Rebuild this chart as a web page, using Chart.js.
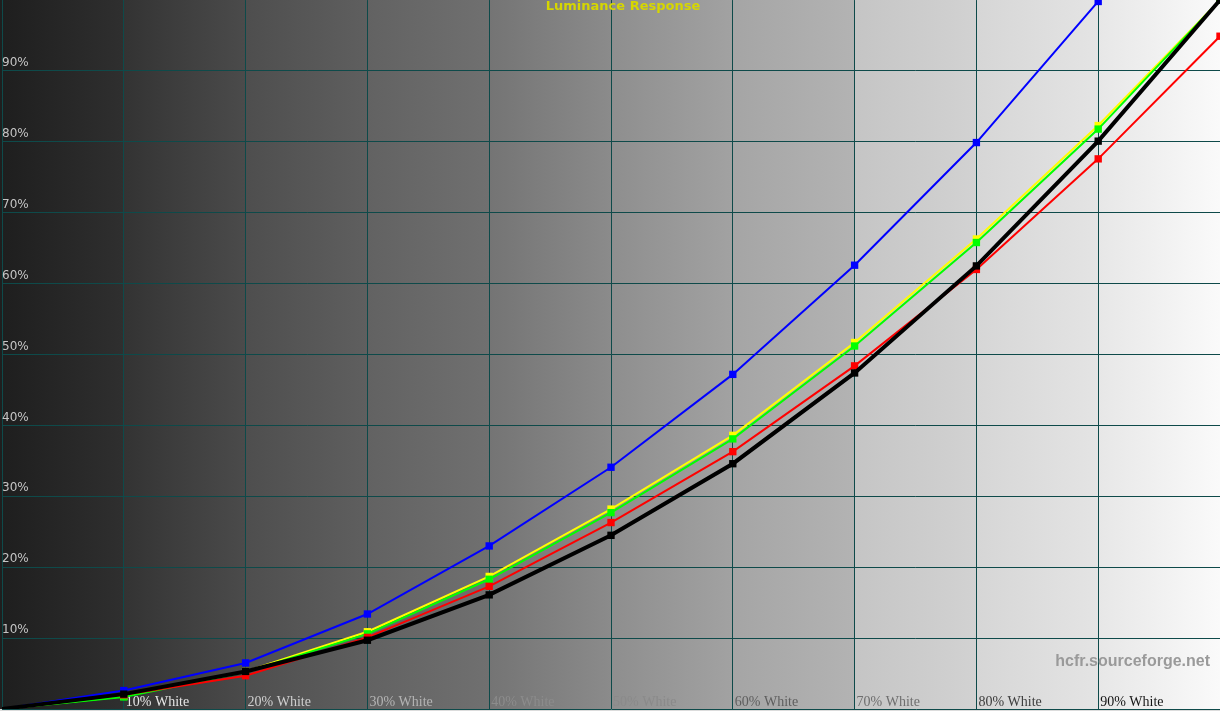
<!DOCTYPE html>
<html>
<head>
<meta charset="utf-8">
<title>Luminance Response</title>
<script src="https://cdn.jsdelivr.net/npm/chart.js@4"></script>
<style>
  html, body { margin: 0; padding: 0; background: #dcdcdc; }
  canvas { display: block; }
</style>
</head>
<body>
<canvas id="chart" width="1220" height="711"></canvas>
<script>
'use strict';

// stimulus level (% white)
var levels = [0, 10, 20, 30, 40, 50, 60, 70, 80, 90, 100];
var xTickLabels = [null, '10% White', '20% White', '30% White', '40% White', '50% White',
    '60% White', '70% White', '80% White', '90% White', null];
var yTickLabels = [null, '10%', '20%', '30%', '40%', '50%', '60%', '70%', '80%', '90%', null];

// measured luminance (% of white)
var yLum     = [0, 1.8, 5.3, 10.9, 18.7, 28.2, 38.6, 51.7, 66.3, 82.3, 100];
var greenLum = [0, 1.7, 5.2, 10.6, 18.3, 27.7, 38.1, 51.2, 65.8, 81.8, 100];
var redLum   = [0, 2.0, 4.7, 10.1, 17.3, 26.3, 36.3, 48.4, 62.0, 77.6, 94.9];
var blueLum  = [0, 2.6, 6.5, 13.4, 23.0, 34.1, 47.2, 62.6, 79.9, 99.8, 122];
var refLum   = [0, 2.1, 5.3, 9.7, 16.1, 24.5, 34.6, 47.4, 62.5, 80.1, 100];

function points(values) {
    var out = [];
    for (let i = 0; i < levels.length; i++) {
        out.push({ x: levels[i], y: values[i] });
    }
    return out;
}

function series(label, values, color, width, order) {
    return {
        label: label,
        data: points(values),
        borderColor: color,
        backgroundColor: color,
        borderWidth: width,
        pointStyle: 'rect',
        pointRadius: function (ctx) { return ctx.dataIndex === 0 ? 0 : 5.2; },
        pointBorderWidth: 0,
        tension: 0,
        order: order
    };
}

// gray bands behind the grid, one per 10% step
var bandStart = [0x1e, 0x33, 0x4e, 0x62, 0x74, 0x8e, 0xa5, 0xc5, 0xd6, 0xe7];
var bandEnd   = [0x2f, 0x4b, 0x5f, 0x70, 0x8b, 0xa2, 0xb3, 0xd2, 0xe4, 0xfa];
var xLabelColors = [null, '#e6e6e6', '#cfcfcf', '#b4b4b4', '#8c8c8c', '#8a8a8a',
    '#5e5e5e', '#6e6e6e', '#3c3c3c', '#141414', null];

function gray(v) {
    return 'rgb(' + v + ',' + v + ',' + v + ')';
}

var backdrop = {
    id: 'backdrop',
    beforeDraw: function (chart) {
        var ctx = chart.ctx;
        var area = chart.chartArea;
        var xs = chart.scales.x;
        ctx.save();
        for (let i = 0; i < 10; i++) {
            var x0 = xs.getPixelForValue(levels[i]);
            var x1 = xs.getPixelForValue(levels[i + 1]);
            if (i === 0) x0 = 0;
            var g = ctx.createLinearGradient(x0, 0, x1, 0);
            g.addColorStop(0, gray(bandStart[i]));
            g.addColorStop(1, gray(bandEnd[i]));
            ctx.fillStyle = g;
            ctx.fillRect(x0, 0, x1 - x0, area.bottom);
        }
        ctx.restore();
    },
    afterDraw: function (chart) {
        var ctx = chart.ctx;
        var area = chart.chartArea;
        ctx.save();
        ctx.textBaseline = 'middle';
        ctx.textAlign = 'center';
        ctx.fillStyle = '#d6d600';
        ctx.font = 'bold 13px "DejaVu Sans"';
        ctx.fillText('Luminance Response', 623, 7);
        ctx.textAlign = 'right';
        ctx.fillStyle = '#9a9a9a';
        ctx.font = 'bold 16px "Liberation Sans"';
        ctx.fillText('hcfr.sourceforge.net', area.right - 10, 662);
        ctx.restore();
    }
};

var chart = new Chart(document.getElementById('chart').getContext('2d'), {
    type: 'line',
    data: {
        datasets: [
            series('Reference', refLum, '#000000', 4, 0),
            series('Blue', blueLum, '#0000ff', 2, 1),
            series('Red', redLum, '#ff0000', 2, 2),
            series('Green', greenLum, '#00ff00', 2, 3),
            series('Y', yLum, '#ffff00', 2, 4)
        ]
    },
    options: {
        responsive: false,
        animation: false,
        layout: { autoPadding: false, padding: { left: 2, right: 0, top: 0, bottom: 2 } },
        plugins: {
            legend: { display: false },
            title: { display: false },
            tooltip: { enabled: false }
        },
        scales: {
            x: {
                type: 'linear',
                min: 0,
                max: 100,
                grid: { color: '#0e4a4a', lineWidth: 1, drawTicks: false },
                border: { display: true, color: '#0e4a4a' },
                ticks: {
                    stepSize: 10,
                    mirror: true,
                    padding: 0,
                    align: 'start',
                    labelOffset: 2,
                    maxRotation: 0,
                    autoSkip: false,
                    font: { family: '"Liberation Serif"', size: 14, lineHeight: 1 },
                    color: function (ctx) {
                        var v = ctx.tick ? Math.round(ctx.tick.value / 10) : 0;
                        return xLabelColors[v] || '#000';
                    },
                    callback: function (value, index) { return xTickLabels[index]; }
                }
            },
            y: {
                type: 'linear',
                min: 0,
                max: 100,
                grid: { color: '#0e4a4a', lineWidth: 1, drawTicks: false },
                border: { display: true, color: '#0e4a4a' },
                ticks: {
                    stepSize: 10,
                    mirror: true,
                    padding: 0,
                    labelOffset: -8,
                    font: { family: '"DejaVu Sans"', size: 12, lineHeight: 0.01 },
                    color: '#c4c4c4',
                    callback: function (value, index) { return yTickLabels[index]; }
                }
            }
        }
    },
    plugins: [backdrop]
});
</script>
</body>
</html>
